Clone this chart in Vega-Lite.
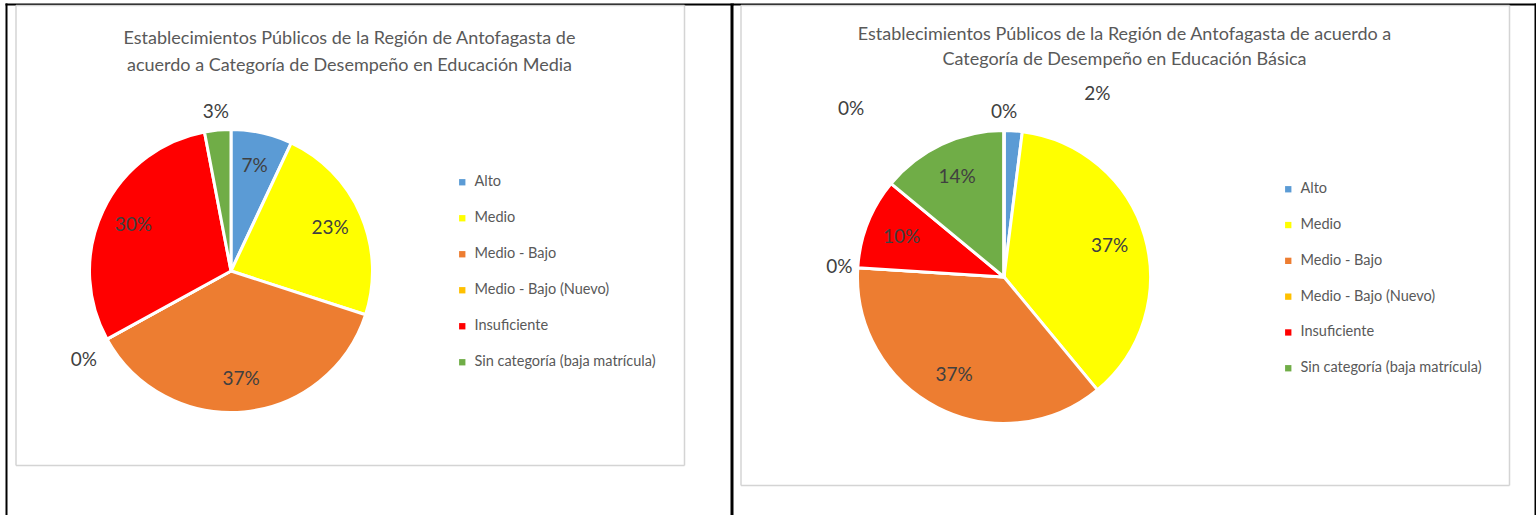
{
  "$schema": "https://vega.github.io/schema/vega-lite/v6.json",
  "background": "white",
  "padding": {"left": 4, "top": 4, "right": 0, "bottom": 0},
  "bounds": "flush",
  "spacing": 467,
  "config": {
    "view": {"stroke": null},
    "axis": {"grid": false, "ticks": false, "labels": false, "domain": true, "title": null}
  },
  "resolve": {"scale": {"color": "independent"}, "legend": {"color": "independent"}},
  "hconcat": [
    {
      "width": 300,
      "height": 300,
      "title": {
        "text": ["Establecimientos Públicos de la Región de Antofagasta de", "acuerdo a Categoría de Desempeño en Educación Media"],
        "font": "Lato",
        "fontSize": 18,
        "fontWeight": "normal",
        "color": "#595959",
        "lineHeight": 27,
        "frame": "group",
        "anchor": "middle",
        "dx": 118.5,
        "offset": -71
      },
      "data": {
        "values": [
          {"idx": 1, "cat": "Alto", "pct": 0.07},
          {"idx": 2, "cat": "Medio", "pct": 0.23},
          {"idx": 3, "cat": "Medio - Bajo", "pct": 0.37},
          {"idx": 4, "cat": "Medio - Bajo (Nuevo)", "pct": 0},
          {"idx": 5, "cat": "Insuficiente", "pct": 0.30},
          {"idx": 6, "cat": "Sin categoría (baja matrícula)", "pct": 0.03}
        ]
      },
      "resolve": {"scale": {"x": "independent", "y": "independent"}, "axis": {"x": "independent", "y": "independent"}},
      "layer": [
        {
          "mark": {"type": "point", "opacity": 0, "size": 1},
          "encoding": {
            "x": {"datum": 0, "type": "quantitative", "scale": {"domain": [0, 1], "range": [-76, 652], "nice": false, "zero": false}, "axis": {"orient": "top", "offset": 117, "domainColor": "#000000", "domainWidth": 2}},
            "y": {"datum": 0, "type": "quantitative", "scale": {"domain": [0, 1], "range": [408, -118], "nice": false, "zero": false}, "axis": {"orient": "left", "offset": 75, "domainColor": "#000000", "domainWidth": 2}}
          }
        },
        {
          "mark": {"type": "point", "opacity": 0, "size": 1},
          "encoding": {
            "y": {"datum": 0, "type": "quantitative", "scale": {"domain": [0, 1], "range": [408, -118], "nice": false, "zero": false}, "axis": {"orient": "right", "offset": 350.5, "domainColor": "#000000", "domainWidth": 3}}
          }
        },
        {
          "mark": {"type": "point", "opacity": 0, "size": 1},
          "encoding": {
            "x": {"datum": 0, "type": "quantitative", "scale": {"domain": [0, 1], "range": [-65.5, 603], "nice": false, "zero": false}, "axis": {"orient": "top", "offset": 116, "domainColor": "#d4d4d4", "domainWidth": 1.5}},
            "y": {"datum": 0, "type": "quantitative", "scale": {"domain": [0, 1], "range": [344, -116], "nice": false, "zero": false}, "axis": {"orient": "left", "offset": 65.5, "domainColor": "#d4d4d4", "domainWidth": 1.5}}
          }
        },
        {
          "mark": {"type": "point", "opacity": 0, "size": 1},
          "encoding": {
            "x": {"datum": 0, "type": "quantitative", "scale": {"domain": [0, 1], "range": [-65.5, 603], "nice": false, "zero": false}, "axis": {"orient": "bottom", "offset": 44, "domainColor": "#d4d4d4", "domainWidth": 1.5}},
            "y": {"datum": 0, "type": "quantitative", "scale": {"domain": [0, 1], "range": [344, -116], "nice": false, "zero": false}, "axis": {"orient": "right", "offset": 303, "domainColor": "#d4d4d4", "domainWidth": 1.5}}
          }
        },
        {
          "mark": {"type": "arc", "outerRadius": 141.5, "stroke": "white", "strokeWidth": 3, "strokeJoin": "round"},
          "encoding": {
            "theta": {"field": "pct", "type": "quantitative", "stack": true},
            "order": {"field": "idx", "type": "quantitative"},
            "color": {
              "field": "cat",
              "type": "nominal",
              "scale": {
                "domain": ["Alto", "Medio", "Medio - Bajo", "Medio - Bajo (Nuevo)", "Insuficiente", "Sin categoría (baja matrícula)"],
                "range": ["#5B9BD5", "#FFFF00", "#ED7D31", "#FFC000", "#FF0000", "#70AD47"]
              },
              "legend": {
                "orient": "none",
                "legendX": 374,
                "legendY": 54,
                "title": null,
                "direction": "vertical",
                "symbolType": "square",
                "symbolSize": 40,
                "symbolStrokeWidth": 0,
                "labelFont": "Lato",
                "labelFontSize": 14.5,
                "labelColor": "#595959",
                "labelOffset": 5,
                "labelLimit": 400,
                "rowPadding": 21
              }
            }
          }
        },
        {
          "mark": {"type": "text", "radius": 108, "font": "Lato", "fontSize": 19, "color": "#404040"},
          "encoding": {
            "theta": {"field": "pct", "type": "quantitative", "stack": true},
            "order": {"field": "idx", "type": "quantitative"},
            "detail": {"field": "cat", "type": "nominal"},
            "text": {"field": "pct", "type": "quantitative", "format": ".0%"},
            "opacity": {"condition": {"test": "datum.pct >= 0.05", "value": 1}, "value": 0}
          }
        },
        {
          "mark": {"type": "text", "radius": 160, "font": "Lato", "fontSize": 19, "color": "#404040"},
          "encoding": {
            "theta": {"field": "pct", "type": "quantitative", "stack": true},
            "order": {"field": "idx", "type": "quantitative"},
            "detail": {"field": "cat", "type": "nominal"},
            "text": {"field": "pct", "type": "quantitative", "format": ".0%"},
            "opacity": {"condition": {"test": "datum.pct < 0.05 && datum.idx != 4", "value": 1}, "value": 0}
          }
        },
        {
          "mark": {"type": "text", "radius": 168, "dy": 8, "font": "Lato", "fontSize": 19, "color": "#404040"},
          "encoding": {
            "theta": {"field": "pct", "type": "quantitative", "stack": true},
            "order": {"field": "idx", "type": "quantitative"},
            "detail": {"field": "cat", "type": "nominal"},
            "text": {"field": "pct", "type": "quantitative", "format": ".0%"},
            "opacity": {"condition": {"test": "datum.idx == 4", "value": 1}, "value": 0}
          }
        }
      ]
    },
    {
      "width": 312,
      "height": 312,
      "title": {
        "text": ["Establecimientos Públicos de la Región de Antofagasta de acuerdo a", "Categoría de Desempeño en Educación Básica"],
        "font": "Lato",
        "fontSize": 18,
        "fontWeight": "normal",
        "color": "#595959",
        "lineHeight": 25,
        "frame": "group",
        "anchor": "middle",
        "dx": 120.5,
        "offset": -65
      },
      "data": {
        "values": [
          {"idx": 1, "cat": "Alto", "pct": 0.02},
          {"idx": 2, "cat": "Medio", "pct": 0.37},
          {"idx": 3, "cat": "Medio - Bajo", "pct": 0.37},
          {"idx": 4, "cat": "Medio - Bajo (Nuevo)", "pct": 0},
          {"idx": 5, "cat": "Insuficiente", "pct": 0.10},
          {"idx": 6, "cat": "Sin categoría (baja matrícula)", "pct": 0.14},
          {"idx": 7, "cat": "Sin dato A", "pct": 0},
          {"idx": 8, "cat": "Sin dato B", "pct": 0}
        ]
      },
      "resolve": {"scale": {"x": "independent", "y": "independent"}, "axis": {"x": "independent", "y": "independent"}},
      "layer": [
        {
          "mark": {"type": "point", "opacity": 0, "size": 1},
          "encoding": {
            "x": {"datum": 0, "type": "quantitative", "scale": {"domain": [0, 1], "range": [-115.5, 689], "nice": false, "zero": false}, "axis": {"orient": "top", "offset": 117, "domainColor": "#000000", "domainWidth": 2}},
            "y": {"datum": 0, "type": "quantitative", "scale": {"domain": [0, 1], "range": [408, -118], "nice": false, "zero": false}, "axis": {"orient": "right", "offset": 375, "domainColor": "#000000", "domainWidth": 2}}
          }
        },
        {
          "mark": {"type": "point", "opacity": 0, "size": 1},
          "encoding": {
            "x": {"datum": 0, "type": "quantitative", "scale": {"domain": [0, 1], "range": [-107.5, 661], "nice": false, "zero": false}, "axis": {"orient": "top", "offset": 116, "domainColor": "#d4d4d4", "domainWidth": 1.5}},
            "y": {"datum": 0, "type": "quantitative", "scale": {"domain": [0, 1], "range": [364, -116], "nice": false, "zero": false}, "axis": {"orient": "left", "offset": 107.5, "domainColor": "#d4d4d4", "domainWidth": 1.5}}
          }
        },
        {
          "mark": {"type": "point", "opacity": 0, "size": 1},
          "encoding": {
            "x": {"datum": 0, "type": "quantitative", "scale": {"domain": [0, 1], "range": [-107.5, 661], "nice": false, "zero": false}, "axis": {"orient": "bottom", "offset": 52, "domainColor": "#d4d4d4", "domainWidth": 1.5}},
            "y": {"datum": 0, "type": "quantitative", "scale": {"domain": [0, 1], "range": [364, -116], "nice": false, "zero": false}, "axis": {"orient": "right", "offset": 349, "domainColor": "#d4d4d4", "domainWidth": 1.5}}
          }
        },
        {
          "mark": {"type": "arc", "outerRadius": 146.5, "stroke": "white", "strokeWidth": 3, "strokeJoin": "round"},
          "encoding": {
            "theta": {"field": "pct", "type": "quantitative", "stack": true},
            "order": {"field": "idx", "type": "quantitative"},
            "color": {
              "field": "cat",
              "type": "nominal",
              "scale": {
                "domain": ["Alto", "Medio", "Medio - Bajo", "Medio - Bajo (Nuevo)", "Insuficiente", "Sin categoría (baja matrícula)", "Sin dato A", "Sin dato B"],
                "range": ["#5B9BD5", "#FFFF00", "#ED7D31", "#FFC000", "#FF0000", "#70AD47", "#A5A5A5", "#4472C4"]
              },
              "legend": {
                "values": ["Alto", "Medio", "Medio - Bajo", "Medio - Bajo (Nuevo)", "Insuficiente", "Sin categoría (baja matrícula)"],
                "orient": "none",
                "legendX": 433,
                "legendY": 61,
                "title": null,
                "direction": "vertical",
                "symbolType": "square",
                "symbolSize": 40,
                "symbolStrokeWidth": 0,
                "labelFont": "Lato",
                "labelFontSize": 14.5,
                "labelColor": "#595959",
                "labelOffset": 5,
                "labelLimit": 400,
                "rowPadding": 20.8
              }
            }
          }
        },
        {
          "mark": {"type": "text", "radius": 110, "font": "Lato", "fontSize": 19, "color": "#404040"},
          "encoding": {
            "theta": {"field": "pct", "type": "quantitative", "stack": true},
            "order": {"field": "idx", "type": "quantitative"},
            "detail": {"field": "cat", "type": "nominal"},
            "text": {"field": "pct", "type": "quantitative", "format": ".0%"},
            "opacity": {"condition": {"test": "datum.pct >= 0.05", "value": 1}, "value": 0}
          }
        },
        {
          "mark": {"type": "text", "radius": 165, "font": "Lato", "fontSize": 19, "color": "#404040"},
          "encoding": {
            "theta": {"field": "pct", "type": "quantitative", "stack": true},
            "order": {"field": "idx", "type": "quantitative"},
            "detail": {"field": "cat", "type": "nominal"},
            "text": {"field": "pct", "type": "quantitative", "format": ".0%"},
            "opacity": {"condition": {"test": "datum.pct < 0.05 && datum.idx != 1 && datum.idx != 8", "value": 1}, "value": 0}
          }
        },
        {
          "mark": {"type": "text", "radius": 165, "dx": 83, "dy": -18, "font": "Lato", "fontSize": 19, "color": "#404040"},
          "encoding": {
            "theta": {"field": "pct", "type": "quantitative", "stack": true},
            "order": {"field": "idx", "type": "quantitative"},
            "detail": {"field": "cat", "type": "nominal"},
            "text": {"field": "pct", "type": "quantitative", "format": ".0%"},
            "opacity": {"condition": {"test": "datum.idx == 1", "value": 1}, "value": 0}
          }
        },
        {
          "mark": {"type": "text", "radius": 165, "dx": -153, "dy": -3, "font": "Lato", "fontSize": 19, "color": "#404040"},
          "encoding": {
            "theta": {"field": "pct", "type": "quantitative", "stack": true},
            "order": {"field": "idx", "type": "quantitative"},
            "detail": {"field": "cat", "type": "nominal"},
            "text": {"field": "pct", "type": "quantitative", "format": ".0%"},
            "opacity": {"condition": {"test": "datum.idx == 8", "value": 1}, "value": 0}
          }
        }
      ]
    }
  ]
}
